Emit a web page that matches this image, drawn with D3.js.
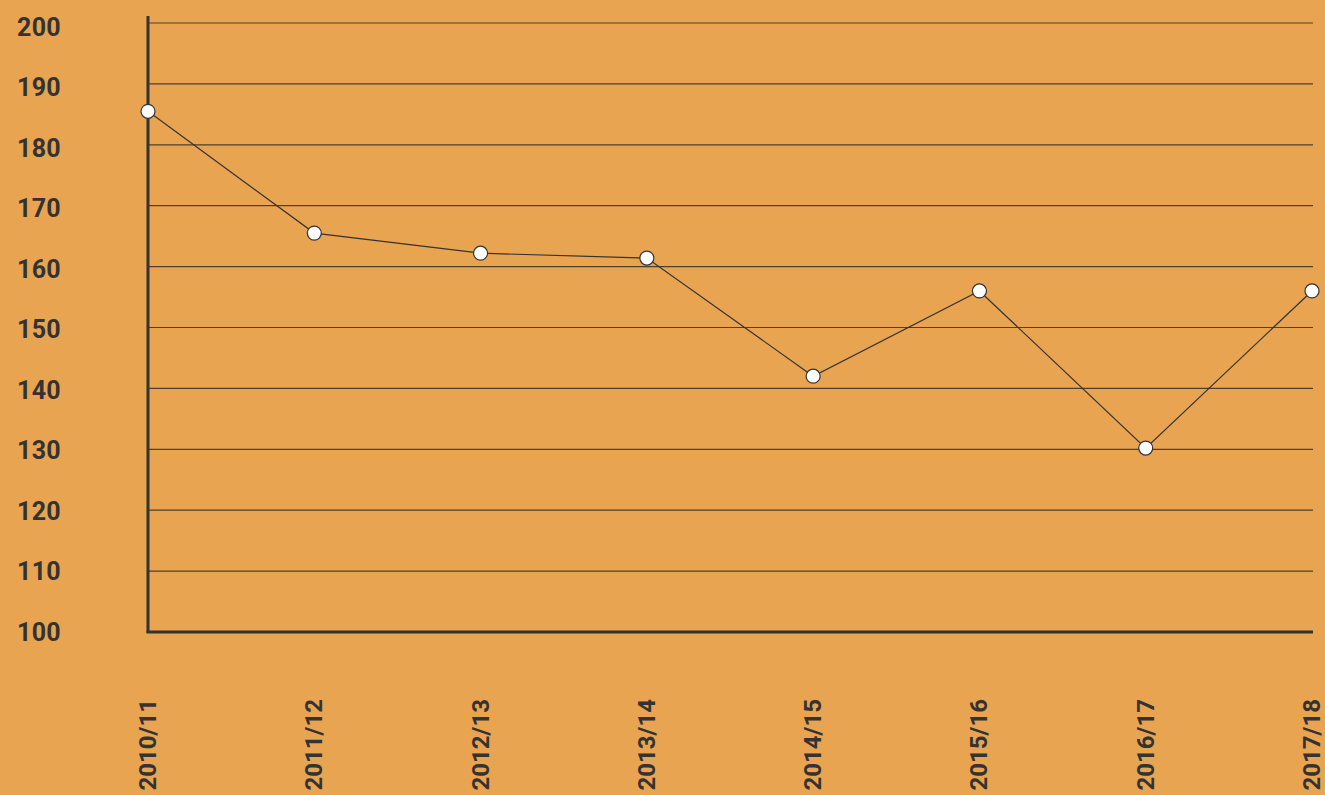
<!DOCTYPE html>
<html>
<head>
<meta charset="utf-8">
<script src="https://cdn.jsdelivr.net/npm/d3@7"></script>
<style>
  html, body { margin: 0; padding: 0; background: #E9A451; }
  svg { display: block; }
  text { font-family: Roboto, "DejaVu Sans", sans-serif; font-weight: 700; fill: #333333; }
</style>
</head>
<body>
<svg id="chart" width="1325" height="795"></svg>
<script>
// Season labels and values
const seasons = ["2010/11", "2011/12", "2012/13", "2013/14", "2014/15", "2015/16", "2016/17", "2017/18"];
const values = [185.5, 165.5, 162.2, 161.4, 142, 156, 130.2, 156];
const yTicks = [100, 110, 120, 130, 140, 150, 160, 170, 180, 190, 200];

const svg = d3.select("#chart");
const plotLeft = 148, plotRight = 1312, plotTop = 23, plotBottom = 632;

const x = d3.scalePoint().domain(seasons).range([plotLeft, plotRight]);
const y = d3.scaleLinear().domain([100, 200]).range([plotBottom, plotTop]);

// Horizontal gridlines
svg.append("g")
  .selectAll("line")
  .data(yTicks.filter(d => d > 100))
  .join("line")
  .attr("x1", plotLeft).attr("x2", plotRight + 1)
  .attr("y1", d => y(d)).attr("y2", d => y(d))
  .attr("stroke", "#4d4030").attr("stroke-width", 1.2);

// Y-axis labels
svg.append("g")
  .selectAll("text")
  .data(yTicks)
  .join("text")
  .attr("x", 61)
  .attr("y", d => y(d) + (d - 100) * 0.035)
  .attr("dy", "0.36em")
  .attr("text-anchor", "end")
  .style("font-size", "25px")
  .style("letter-spacing", "0.3px")
  .text(d => d);

// Axis lines
svg.append("line")
  .attr("x1", plotLeft).attr("x2", plotLeft)
  .attr("y1", 16).attr("y2", plotBottom + 1)
  .attr("stroke", "#333").attr("stroke-width", 3);
svg.append("line")
  .attr("x1", plotLeft - 1.5).attr("x2", plotRight + 1)
  .attr("y1", plotBottom).attr("y2", plotBottom)
  .attr("stroke", "#333").attr("stroke-width", 3);

// X-axis labels (rotated)
svg.append("g")
  .selectAll("text")
  .data(seasons)
  .join("text")
  .attr("transform", d => `translate(${x(d) + 8},699) rotate(-90)`)
  .attr("text-anchor", "end")
  .style("font-size", "24px")
  .text(d => d);

// Line
const line = d3.line()
  .x((d, i) => x(seasons[i]))
  .y(d => y(d));

svg.append("path")
  .datum(values)
  .attr("d", line)
  .attr("fill", "none")
  .attr("stroke", "#333")
  .attr("stroke-width", 1.2);

// Markers
svg.append("g")
  .selectAll("circle")
  .data(values)
  .join("circle")
  .attr("cx", (d, i) => x(seasons[i]))
  .attr("cy", d => y(d))
  .attr("r", 7)
  .attr("fill", "#ffffff")
  .attr("stroke", "#333")
  .attr("stroke-width", 1.2);
</script>
</body>
</html>
